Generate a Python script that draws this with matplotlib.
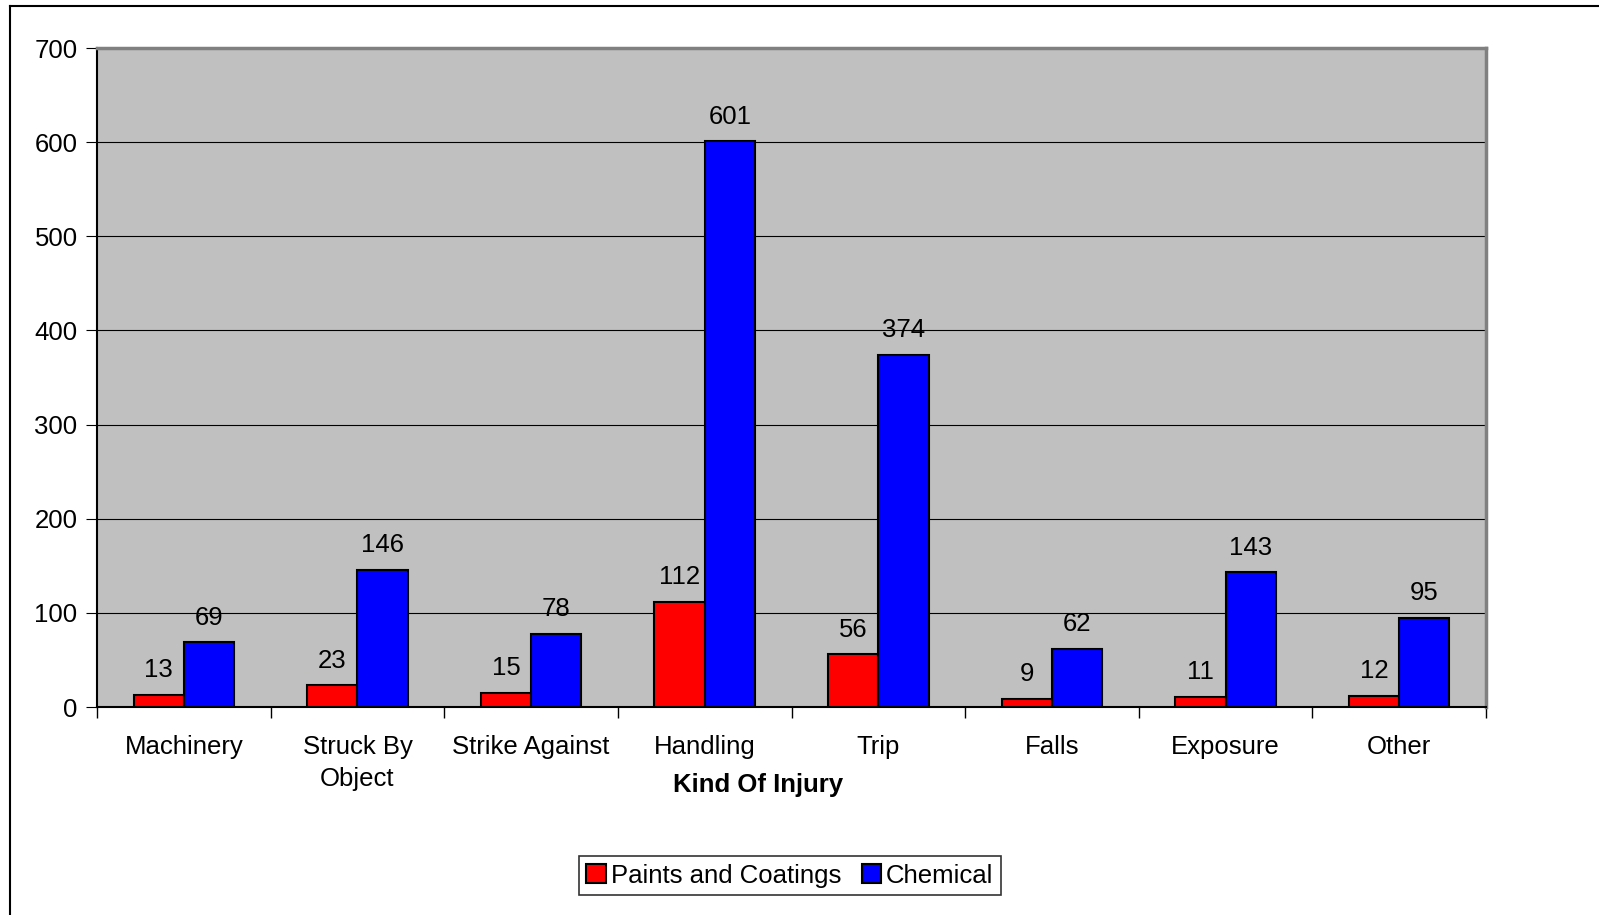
import numpy as np
import matplotlib
matplotlib.use("Agg")
import matplotlib.pyplot as plt
from matplotlib.lines import Line2D

plt.rcParams['font.family'] = ['Liberation Sans', 'DejaVu Sans']

# data
categories = ["Machinery", "Struck By\nObject", "Strike Against", "Handling",
              "Trip", "Falls", "Exposure", "Other"]
paints = [13, 23, 15, 112, 56, 9, 11, 12]
chemical = [69, 146, 78, 601, 374, 62, 143, 95]

fs = 18.5

fig = plt.figure(figsize=(15.99, 9.15), dpi=100)
ax = fig.add_axes([0.0607, 0.2273, 0.8686, 0.7202])
ax.set_facecolor('#C0C0C0')

x = np.arange(len(categories))
w = 0.29
b1 = ax.bar(x - w / 2, paints, w, color='#FF0000', edgecolor='black', linewidth=1.5,
            label='Paints and Coatings', zorder=3)
b2 = ax.bar(x + w / 2, chemical, w, color='#0000FF', edgecolor='black', linewidth=1.5,
            label='Chemical', zorder=3)
for bars in (b1, b2):
    ax.bar_label(bars, padding=9, fontsize=fs)

ax.set_xlim(-0.5, len(categories) - 0.5)
ax.set_ylim(0, 700)
ax.set_yticks(range(0, 701, 100))
ax.yaxis.grid(True, color='black', linewidth=0.8, zorder=0)
ax.set_axisbelow(True)

ax.set_xticks(x)
ax.set_xticklabels(categories, fontsize=fs, linespacing=1.45)
ax.set_xticks(np.arange(-0.5, len(categories), 1), minor=True)
ax.tick_params(axis='x', which='major', length=0, pad=20)
ax.tick_params(axis='x', which='minor', length=8, width=1, direction='out')
ax.tick_params(axis='y', labelsize=fs, length=8, direction='out', pad=6)

ax.set_xlabel('Kind Of Injury', fontsize=fs, fontweight='bold')
ax.xaxis.set_label_coords(0.476, -0.118)
ax.xaxis.label.set_va('center')

for s in ('top', 'right'):
    ax.spines[s].set_color('#808080')
    ax.spines[s].set_linewidth(2.5)
ax.spines['left'].set_linewidth(1.5)
ax.spines['bottom'].set_linewidth(1.5)

leg = fig.legend(loc='center', bbox_to_anchor=(0.494, 0.043), ncol=2, fontsize=fs,
                 frameon=True, fancybox=False, edgecolor='black', handlelength=0.75,
                 handleheight=0.75, handletextpad=0.2, columnspacing=0.8,
                 borderpad=0.3, borderaxespad=0)
leg.get_frame().set_linewidth(1.2)
for h in leg.legend_handles:
    h.set_edgecolor('black')
    h.set_linewidth(1.5)

# outer chart border
fig.add_artist(Line2D([10 / 1599, 10 / 1599], [0, 1 - 6 / 915], color='black', linewidth=1.5))
fig.add_artist(Line2D([10 / 1599, 1], [1 - 6 / 915, 1 - 6 / 915], color='black', linewidth=1.5))

fig.savefig('out.png', dpi=100)
